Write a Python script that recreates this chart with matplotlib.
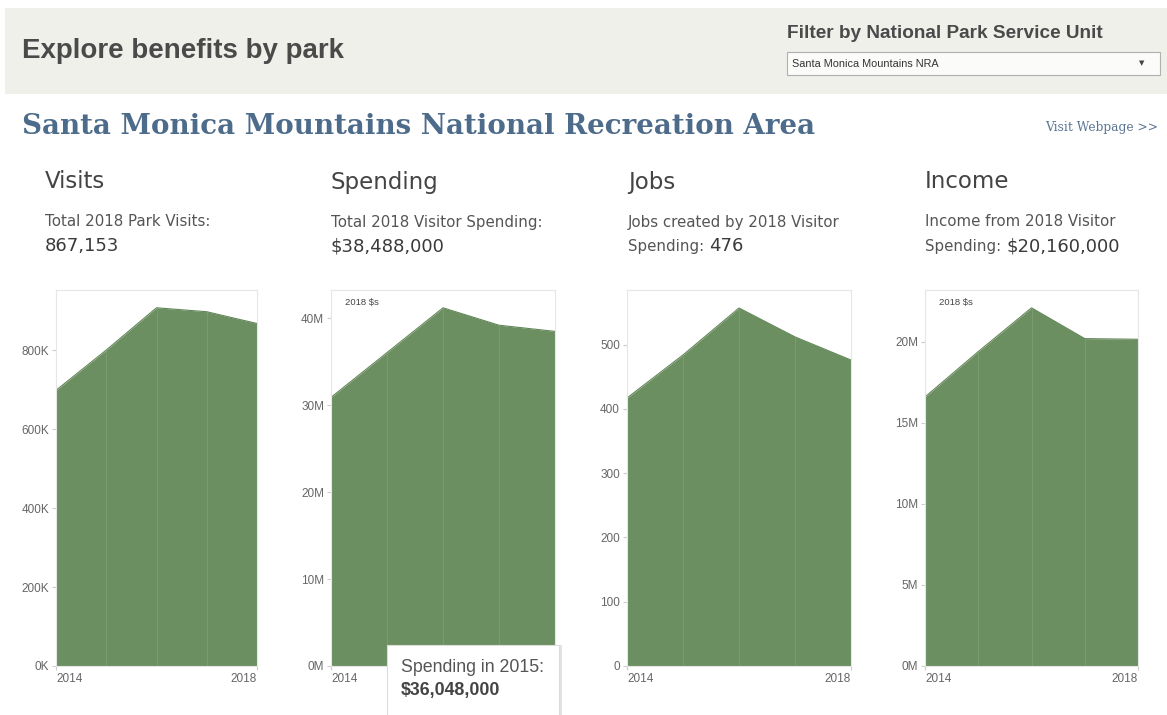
import matplotlib
matplotlib.use('Agg')
import matplotlib.pyplot as plt
from matplotlib.patches import Rectangle
from matplotlib.ticker import FuncFormatter

W, H = 1167, 715

years = [2014, 2015, 2016, 2017, 2018]
visits = [698000, 800000, 907000, 897000, 867153]
spending = [30.9e6, 36.048e6, 41.2e6, 39.2e6, 38.488e6]
jobs = [417, 484, 557, 512, 476]
income = [16.6e6, 19.4e6, 22.1e6, 20.2e6, 20.16e6]

visit_ticks = [0, 200000, 400000, 600000, 800000]
spend_ticks = [0, 10e6, 20e6, 30e6, 40e6]
job_ticks = [0, 100, 200, 300, 400, 500]
income_ticks = [0, 5e6, 10e6, 15e6, 20e6]

GREEN = '#6b8f60'
SANS = 'Liberation Sans'
TAHOMA = 'DejaVu Sans'


def px(x, y):
    return x / W, 1 - y / H


def box(x0, y0, x1, y1):
    return [x0 / W, 1 - y1 / H, (x1 - x0) / W, (y1 - y0) / H]


fig = plt.figure(figsize=(W / 100, H / 100), dpi=100)
fig.patch.set_facecolor('white')

# header band
fig.add_artist(Rectangle(px(5, 94), (W - 5) / W, 86 / H, transform=fig.transFigure,
                         facecolor='#f0f0eb', edgecolor='none', zorder=0))
fig.text(*px(22, 51), 'Explore benefits by park', fontsize=20, fontweight='bold',
         family=SANS, color='#4a4a4a', va='center')
fig.text(*px(787, 34), 'Filter by National Park Service Unit', fontsize=13.7, fontweight='bold',
         family=SANS, color='#4a4a4a', va='center')
fig.add_artist(Rectangle(px(787, 75), 373 / W, 23 / H, transform=fig.transFigure,
                         facecolor='#fbfbf9', edgecolor='#b0b0b0', lw=0.8, zorder=1))
fig.text(*px(792, 64), 'Santa Monica Mountains NRA', fontsize=7.8, family=SANS,
         color='#333333', va='center')
fig.text(*px(1142, 63), '\u25bc', fontsize=5, family='DejaVu Sans', color='#444444',
         va='center', ha='center')

# park title
fig.text(*px(22, 126), 'Santa Monica Mountains National Recreation Area', fontsize=19.9,
         fontweight='bold', family='DejaVu Serif', color='#4d6b8a', va='center')
fig.text(*px(1158, 127), 'Visit Webpage >>', fontsize=8.8, family='DejaVu Serif',
         color='#5b7594', va='center', ha='right')

# the tooltip hides the 2018 label of the Spending panel
panels = [
    dict(title='Visits', x=45, ax=(56, 257), vals=visits, ticks=visit_ticks,
         fmt=lambda v: '%dK' % (v / 1000), top=952000, xlabs=['2014', '2018'],
         line1='Total 2018 Park Visits:', pre2='', val2='867,153', usd=False),
    dict(title='Spending', x=331, ax=(331, 555), vals=spending, ticks=spend_ticks,
         fmt=lambda v: '%dM' % (v / 1e6), top=43.25e6, xlabs=['2014', ''],
         line1='Total 2018 Visitor Spending:', pre2='', val2='$38,488,000', usd=True),
    dict(title='Jobs', x=628, ax=(627, 851), vals=jobs, ticks=job_ticks,
         fmt=lambda v: '%d' % v, top=585, xlabs=['2014', '2018'],
         line1='Jobs created by 2018 Visitor', pre2='Spending:', val2='476', usd=False),
    dict(title='Income', x=925, ax=(925, 1138), vals=income, ticks=income_ticks,
         fmt=lambda v: '%dM' % (v / 1e6), top=23.2e6, xlabs=['2014', '2018'],
         line1='Income from 2018 Visitor', pre2='Spending:', val2='$20,160,000', usd=True),
]

for p in panels:
    fig.text(*px(p['x'], 182), p['title'], fontsize=16.5, family=TAHOMA, color='#444444',
             va='center')
    fig.text(*px(p['x'], 222), p['line1'], fontsize=10.8, family=TAHOMA, color='#555555',
             va='center')
    if p['pre2']:
        fig.text(*px(p['x'], 246), p['pre2'], fontsize=10.8, family=TAHOMA,
                 color='#555555', va='center')
        fig.text(*px(p['x'] + 81, 246), p['val2'], fontsize=13, family=TAHOMA,
                 color='#3a3a3a', va='center')
    else:
        fig.text(*px(p['x'], 246), p['val2'], fontsize=13, family=TAHOMA,
                 color='#3a3a3a', va='center')

    x0, x1 = p['ax']
    ax = fig.add_axes(box(x0, 290, x1, 666))
    ax.fill_between(years, 0, p['vals'], color=GREEN, lw=0)
    ax.plot(years, p['vals'], color='#628657', lw=0.8)
    ax.vlines(years[1:-1], 0, p['vals'][1:-1], color='#7b9c70', lw=0.7)
    ax.set_xlim(2014, 2018)
    ax.set_ylim(0, p['top'])
    ax.set_yticks(p['ticks'])
    ax.yaxis.set_major_formatter(FuncFormatter(lambda v, pos, f=p['fmt']: f(v)))
    ax.set_xticks([2014, 2018])
    ax.set_xticklabels(p['xlabs'])
    xl = ax.get_xticklabels()
    xl[0].set_ha('left')
    xl[1].set_ha('right')
    ax.tick_params(axis='both', colors='#cccccc', labelcolor='#666666', labelsize=8.5,
                   length=3, width=0.8, pad=2)
    for lab in ax.get_xticklabels() + ax.get_yticklabels():
        lab.set_family(SANS)
    for s in ax.spines.values():
        s.set_color('#e6e6e6')
        s.set_linewidth(0.8)
    if p['usd']:
        ax.text(14 / (x1 - x0), 1 - 13 / 376, '2018 $s', transform=ax.transAxes,
                fontsize=6.8, family=SANS, color='#444444', va='center')

# tooltip
fig.add_artist(Rectangle(px(389, 717), 173 / W, 72 / H, transform=fig.transFigure,
                         facecolor='#e2e2e2', edgecolor='none', zorder=9))
fig.add_artist(Rectangle(px(387, 716), 172 / W, 71 / H, transform=fig.transFigure,
                         facecolor='white', edgecolor='#dcdcdc', lw=0.8, zorder=10))
fig.text(*px(401, 668), 'Spending in 2015:', fontsize=12.8, family=SANS, color='#555555',
         va='center', zorder=11)
fig.text(*px(401, 691), '$36,048,000', fontsize=12.8, family=SANS, fontweight='bold',
         color='#444444', va='center', zorder=11)

fig.savefig('out.png', dpi=100, facecolor='white')
